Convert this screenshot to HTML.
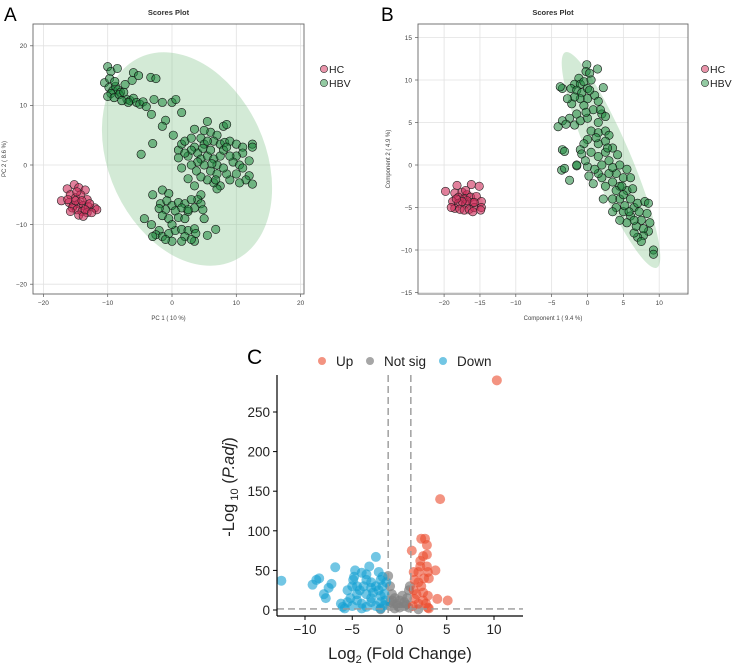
<!DOCTYPE html>
<html><head><meta charset="utf-8"><style>
body{margin:0;background:#fff;width:733px;height:666px;overflow:hidden;font-family:"Liberation Sans",sans-serif}
svg{position:absolute;left:0;top:0}
</style></head><body>
<svg id="fig" width="733" height="666" xmlns="http://www.w3.org/2000/svg"></svg>
<script>
// ---- Panel A data (PC1, PC2) ----
const aHC=[[-17.2,-6],[-16.3,-4],[-15.2,-3.3],[-14.5,-3.8],[-13.5,-4.2],[-15.8,-5],[-15,-5.5],[-14.2,-5],[-13.2,-5.8],[-16,-6.3],[-15.3,-6.8],[-14.5,-6.5],[-13.8,-6.8],[-13,-7],[-12,-7.2],[-11.7,-7.5],[-15.5,-7.2],[-14.8,-7.5],[-14,-7.8],[-13.2,-8],[-14.5,-8.4],[-13.8,-8.6],[-16.2,-5.8],[-14.8,-4.5],[-12.8,-6.5],[-15,-6],[-14,-6],[-13.5,-7.5],[-15.8,-7.8],[-12.5,-8]];
const aHBV=[[-10,16.5],[-9.5,15.7],[-8.5,16.2],[-10.5,13.8],[-9.8,13],[-9.2,12.5],[-8.8,13.2],[-8.4,12.6],[-8,12.2],[-9.5,12],[-10,11.5],[-9,11.3],[-8.2,11.8],[-7.5,12.2],[-7,11],[-6.5,10.8],[-6,11.2],[-5.5,10.5],[-6.8,10.5],[-7.8,10.8],[-5,10.2],[-4.5,10.6],[-4,9.8],[-6.2,14.2],[-6,15.5],[-5.2,15],[-3.3,14.7],[-2.5,14.5],[-2.8,11],[-1.5,10.5],[0,10.5],[0.6,11],[1.5,8.8],[-3.2,8.5],[-1,7.5],[-1.5,6.5],[-3,3.6],[-4.8,1.8],[0.2,5],[-9.7,14.5],[-8.9,14],[-7.3,13.5],
[3.5,6],[5.5,7.3],[6,5.5],[7,5],[8,6.5],[8.5,6.8],[4.5,4.5],[5,5.8],[6.5,4],[7.5,3.5],[8.2,3.8],[9,4],[10,3.5],[11,3],[12.5,3.5],[12.5,3],[11,2],[10,1.5],[9.5,0.5],[10.5,0],[12,0.7],[11,-0.5],[10,-1.5],[12,-1.8],[11.5,-2.5],[12.5,-3.2],[10.5,-3],[9,-2.5],[8.5,-1.5],[7.5,-3.5],[7,-4],[6.5,-3],[5.5,-2.5],[4.5,-2],[3.5,-3.5],[4.5,-5],[4,-5.8],[2.5,-2.3],[1.5,-0.5],[1,2.5],[1.5,3.5],[2,4],[3,4.5],[3.5,3],[4,2],[4.5,1],[5,0],[5.5,1.5],[6,2.5],[6.5,1],[7,0],[7.5,1.5],[8,2.5],[5,3.5],[4,0.5],[3,0],[2.5,1.5],[6,-1],[7,-1.5],[8,-0.5],[9,1.5],[3,2.5],[5.5,4],[4.8,2.8],[6.2,0.2],[2,2],[1,1.2],[8.5,3],[6.8,-2.5],[3.8,-1],
[-1.5,-4.2],[-0.5,-4.8],[-3,-5],[-1.8,-6.5],[-0.8,-6],[0,-6.8],[1,-6.3],[2,-6.5],[3,-5.8],[4.5,-6.5],[4.8,-7.5],[3.5,-7.2],[2.5,-7.8],[1.5,-7.2],[0.5,-7.7],[-1,-7.5],[-2,-7.3],[-1.5,-8.5],[-0.5,-9],[1,-8.8],[2,-9],[-4.3,-9],[-3.2,-10],[-2,-11],[-2.5,-11.7],[-1.5,-12],[-0.5,-11.5],[0,-12.8],[-1,-12.5],[-3,-12],[0.5,-11],[1.5,-10.8],[2.5,-11],[3.5,-10.7],[3.7,-11.5],[2,-12],[1.5,-12.8],[3.5,-12.8],[5.5,-11.8],[6.8,-10.8],[0,-10],[2.5,-7.5],[5,-9],[3,-12.5]];
const aTicksX=[-20,-10,0,10,20];
const aTicksY=[-20,-10,0,10,20];
// ---- Panel B data (Component 1, Component 2) ----
const bHC=[[-19.8,-3.1],[-18.2,-2.4],[-16.2,-2.3],[-15.1,-2.5],[-18.5,-3.3],[-17.5,-3.2],[-16.8,-3.5],[-18,-3.8],[-17.2,-4],[-16.3,-3.8],[-15.5,-3.7],[-18.8,-4.3],[-18,-4.5],[-17,-4.6],[-16,-4.4],[-14.8,-4.3],[-18.5,-5.1],[-17.8,-5.2],[-17.2,-5.3],[-16.5,-5.2],[-15.8,-5],[-14.8,-5],[-14.9,-5.3],[-19,-5],[-16.8,-4.2],[-17.5,-4.3],[-15.8,-4.4],[-18.3,-4],[-17,-3],[-16,-5.5]];
const bHBV=[[-0.1,11.8],[-0.2,11],[0.3,10.8],[1.4,11.3],[-1.2,10.2],[-1.8,9.5],[-1,9.5],[-0.5,9.8],[0.5,10],[-2.3,9],[-3.5,9],[-3.8,9.2],[-1.5,8.8],[-0.8,8.5],[0,9],[2.2,9.1],[-1,7.8],[0,7.8],[1,8.2],[1.5,7.5],[-2.2,7.2],[-0.5,7],[0.8,6.5],[2,6],[2.5,5.7],[-1.5,6],[-2.5,5.5],[-3.5,5.2],[-4.1,4.5],[-3,4.8],[-1.8,4.7],[-1,5.2],[0,5.5],[1.5,5],[0.5,4],[1.5,3.8],[2.5,4],[3,3.5],[2.5,2.8],[1.5,2.5],[0,3],[-0.5,2.5],[-1,1.8],[-0.8,1.3],[0.5,1.5],[1.5,1],[2.5,1.5],[3,0.5],[3.5,2],[4.2,1.2],[4.5,0],[4,-1],[3,-1],[2,-1.5],[1.5,-1],[0,-0.2],[-1.5,-0.1],[0.2,-1.3],[0.8,-2.2],[2.5,-2.5],[3.5,-2],[4.5,-2.5],[5,-1.5],[5.5,-0.5],[6,-1.5],[5.5,-3],[6,-4],[6.5,-5],[7,-4.5],[8,-4.3],[8.5,-4.5],[8.3,-5.7],[7.5,-6.5],[8.7,-6.8],[8.5,-7.8],[7.8,-8.3],[7,-8.5],[6.5,-8],[7.5,-9],[9.2,-10],[9.2,-10.5],[6.8,-7.2],[6,-6],[5,-5.5],[4,-5],[3.5,-5.5],[4.5,-4],[5,-3.5],[3.5,-4],[2.2,-4],[4,-3],[6.5,-6.5],[5.5,-6.8],[7.2,-5.5],[-3.5,1.8],[-3.2,1.6],[-3.6,-0.6],[-3.2,-0.4],[-2.5,-1.8],[-1.5,0],[-0.3,0.5],[1,-0.5],[2,0],[3.5,-0.3],[4.8,-2.5],[5.2,-4.8],[6.3,-2.8],[1.2,3.2],[-0.2,6.2],[-1.8,8],[0.3,8.8],[-2.8,7.8],[1.8,6.5],[2.8,2],[4.5,-6.5],[7.8,-7.5],[5.8,-5.5]];
const bTicksX=[-20,-15,-10,-5,0,5,10];
const bTicksY=[-15,-10,-5,0,5,10,15];
// ---- Panel C data (log2FC, -log10 padj) ----
const cDown=[[-12.5,37],[-8.5,40],[-8.8,38],[-9.2,32],[-8,20],[-7.8,15],[-7.5,28],[-7.2,33],[-6.8,54],[-4.7,50],[-4.9,38],[-4.5,30],[-4,47],[-3.5,45],[-3.2,55],[-2.5,67],[-2.2,48],[-3,35],[-2,38],[-1.8,30],[-5,30],[-5.5,25],[-4.2,25],[-3.5,20],[-2.8,22],[-2,18],[-1.6,20],[-6.2,8],[-6,4],[-5.5,10],[-5,5],[-4.5,12],[-4,8],[-3.5,4],[-3,10],[-2.5,5],[-2,10],[-1.6,6],[-3.8,30],[-4.5,20],[-5.2,15],[-3,28],[-2.5,30],[-4.8,42],[-3.5,38],[-2.2,25],[-1.5,12],[-4,2],[-5.8,2],[-2,2],[-3,15],[-1.8,42],[-1.4,35]];
const cNS=[[-1.2,43],[-1,30],[-0.8,20],[-0.5,15],[0,12],[0.5,10],[0.8,15],[1,25],[1.1,30],[-1,5],[0,3],[0.5,5],[-0.5,2],[1,3],[-0.3,8],[0.3,18],[-1,10],[-2,1],[2,1],[0.7,7],[-0.8,12],[-0.2,5]];
const cUp=[[10.3,290],[4.3,140],[1.3,75],[2.3,90],[2.7,90],[2.9,82],[2.9,70],[2.5,68],[2.2,62],[1.5,48],[2,48],[3.8,50],[3,48],[3.1,40],[2.6,40],[1.6,38],[2,35],[2.3,30],[1.5,25],[1.8,20],[2.5,22],[3,18],[1.6,14],[2,8],[2.8,8],[3,3],[3.1,2],[4,14],[5.1,12],[1.4,5],[2.5,12],[2.2,55],[2.9,55]];
const cTicksX=[-10,-5,0,5,10];
const cTicksY=[0,50,100,150,200,250];
const fcCut=1.2, pCut=1.3;

const NS="http://www.w3.org/2000/svg";
const svg=document.getElementById('fig');
function el(tag,attrs,parent,txt){const e=document.createElementNS(NS,tag);for(const k in attrs)e.setAttribute(k,attrs[k]);if(txt!==undefined)e.textContent=txt;(parent||svg).appendChild(e);return e;}

function scorePanel(cfg){
  const g=el('g',{});
  
  
  const sx=v=>cfg.x0+(v-cfg.xv0)*cfg.kx, sy=v=>cfg.y0-(v-cfg.yv0)*cfg.ky;
  el('rect',{x:cfg.bx0,y:cfg.by0,width:cfg.bx1-cfg.bx0,height:cfg.by1-cfg.by0,fill:'#fff'},g);
  cfg.tx.forEach(t=>{const l=el('line',{x1:sx(t),x2:sx(t),y1:cfg.by0,y2:cfg.by1,stroke:'#e2e2e2','stroke-width':0.8},g);
    const tl=el('text',{x:sx(t),y:cfg.by1+11,'font-size':6.5,fill:'#444','text-anchor':'middle'},g,String(t).replace('-','−'));
    el('line',{x1:sx(t),x2:sx(t),y1:cfg.by1,y2:cfg.by1+3,stroke:'#555','stroke-width':0.7},g);});
  cfg.ty.forEach(t=>{const l=el('line',{y1:sy(t),y2:sy(t),x1:cfg.bx0,x2:cfg.bx1,stroke:'#e2e2e2','stroke-width':0.8},g);
    const tl=el('text',{x:cfg.bx0-6,y:sy(t)+2.3,'font-size':6.5,fill:'#444','text-anchor':'end'},g,String(t).replace('-','−'));
    el('line',{x1:cfg.bx0-3,x2:cfg.bx0,y1:sy(t),y2:sy(t),stroke:'#555','stroke-width':0.7},g);});
  const e1=el('ellipse',{cx:cfg.ellG[0],cy:cfg.ellG[1],rx:cfg.ellG[2],ry:cfg.ellG[3],transform:`rotate(${cfg.ellG[4]} ${cfg.ellG[0]} ${cfg.ellG[1]})`,fill:'rgba(120,190,130,0.33)'},g);
  
  const e2=el('ellipse',{cx:cfg.ellR[0],cy:cfg.ellR[1],rx:cfg.ellR[2],ry:cfg.ellR[3],transform:`rotate(${cfg.ellR[4]} ${cfg.ellR[0]} ${cfg.ellR[1]})`,fill:'rgba(240,140,160,0.35)'},g);
  
  cfg.hbv.forEach(p=>{const c=el('circle',{cx:sx(p[0]),cy:sy(p[1]),r:4.2,fill:'rgba(30,135,60,0.55)',stroke:'#111','stroke-width':0.6},g);});
  cfg.hc.forEach(p=>{const c=el('circle',{cx:sx(p[0]),cy:sy(p[1]),r:4.2,fill:'rgba(205,45,90,0.6)',stroke:'#222','stroke-width':0.6},g);});
  el('rect',{x:cfg.bx0,y:cfg.by0,width:cfg.bx1-cfg.bx0,height:cfg.by1-cfg.by0,fill:'none',stroke:'#666','stroke-width':0.9},g);
  const ti=el('text',{x:(cfg.bx0+cfg.bx1)/2,y:15,'font-size':7.5,'font-weight':'bold',fill:'#333','text-anchor':'middle'},g,'Scores Plot');
  const xt=el('text',{x:(cfg.bx0+cfg.bx1)/2,y:cfg.by1+26,'font-size':6,fill:'#444','text-anchor':'middle'},g,cfg.xl);
  const yt=el('text',{x:0,y:0,'font-size':6,fill:'#444','text-anchor':'middle',transform:`translate(${cfg.ylx},${(cfg.by0+cfg.by1)/2}) rotate(-90)`},g,cfg.yl);
  const pl=el('text',{x:cfg.lx,y:21,'font-size':19,fill:'#000'},g,cfg.letter);
  [['HC','rgba(215,60,100,0.55)',69],['HBV','rgba(40,150,70,0.5)',83]].forEach(([n,c,y])=>{
    const le=el('g',{},g);
    el('circle',{cx:cfg.legx,cy:y,r:3.6,fill:c,stroke:'#222','stroke-width':0.6},le);
    el('text',{x:cfg.legx+5,y:y+4,'font-size':10.5,fill:'#222'},le,n);});
}
scorePanel({name:'panel-a-pca',letter:'A',lx:4,bx0:33,bx1:304,by0:24,by1:294,x0:172,xv0:0,kx:6.43,y0:165,yv0:0,ky:5.96,tx:aTicksX,ty:aTicksY,hbv:aHBV,hc:aHC,
  ellG:[187,159,78,112,-25],ellR:[79,201,16,11,35],xl:'PC 1 ( 10 %)',yl:'PC 2 ( 8.6 %)',ylx:6,legx:324});
scorePanel({name:'panel-b-plsda',letter:'B',lx:381,bx0:418,bx1:688,by0:24,by1:294,x0:587.5,xv0:0,kx:7.17,y0:165,yv0:0,ky:8.5,tx:bTicksX,ty:bTicksY,hbv:bHBV,hc:bHC,
  ellG:[611,160,20,117,-23],ellR:[466,203,17,12,0],xl:'Component 1 ( 9.4 %)',yl:'Component 2 ( 4.9 %)',ylx:390,legx:705});

// ---- Panel C volcano ----
(function(){
  const g=el('g',{});
  const sx=v=>399.5+v*9.45, sy=v=>610-v*0.792;
  const X0=277,X1=523,Yb=616,Yt=375;
  [[cNS,'rgba(128,128,128,0.7)','not-sig-point'],[cDown,'rgba(20,160,210,0.6)','down-point'],[cUp,'rgba(235,75,45,0.6)','up-point']].forEach(([arr,c,n])=>{
    arr.forEach(p=>{const ci=el('circle',{cx:sx(p[0]),cy:sy(p[1]),r:5,fill:c},g);});});
  [-fcCut,fcCut].forEach(v=>{const l=el('line',{x1:sx(v),x2:sx(v),y1:Yt,y2:Yb,stroke:'#999','stroke-width':1.4,'stroke-dasharray':'7,4'},g);});
  const hl=el('line',{x1:X0,x2:X1,y1:sy(pCut),y2:sy(pCut),stroke:'#999','stroke-width':1.4,'stroke-dasharray':'7,4'},g);
  el('line',{x1:X0,x2:X0,y1:Yt,y2:Yb,stroke:'#000','stroke-width':1.2},g);
  el('line',{x1:X0,x2:X1,y1:Yb,y2:Yb,stroke:'#000','stroke-width':1.2},g);
  cTicksX.forEach(t=>{el('line',{x1:sx(t),x2:sx(t),y1:Yb,y2:Yb+4,stroke:'#000','stroke-width':1},g);
    const tl=el('text',{x:sx(t),y:Yb+18,'font-size':13.5,fill:'#222','text-anchor':'middle'},g,String(t).replace('-','−'));});
  cTicksY.forEach(t=>{el('line',{x1:X0-4,x2:X0,y1:sy(t),y2:sy(t),stroke:'#000','stroke-width':1},g);
    const tl=el('text',{x:X0-7,y:sy(t)+5,'font-size':13.5,fill:'#222','text-anchor':'end'},g,String(t));});
  const xt=el('text',{x:400,y:659,'font-size':16.5,fill:'#222','text-anchor':'middle'},g);
  xt.innerHTML='Log<tspan font-size="11" dy="4">2</tspan><tspan dy="-4"> (Fold Change)</tspan>';
  const yt=el('text',{x:0,y:0,'font-size':16.5,fill:'#222','text-anchor':'middle',transform:'translate(234,487) rotate(-90)'},g);
  yt.innerHTML='-Log<tspan font-size="11" dy="4"> 10</tspan><tspan dy="-4"> (</tspan><tspan font-style="italic">P.adj</tspan>)';
  const pl=el('text',{x:247,y:364,'font-size':21,fill:'#000'},g,'C');
  [['Up','rgba(235,75,45,0.6)',322],['Not sig','rgba(128,128,128,0.7)',370],['Down','rgba(20,160,210,0.6)',443]].forEach(([n,c,x])=>{
    const le=el('g',{},g);
    el('circle',{cx:x,cy:361,r:4,fill:c},le);
    el('text',{x:x+14,y:366,'font-size':13.5,fill:'#222'},le,n);});
})();
</script>
</body></html>
